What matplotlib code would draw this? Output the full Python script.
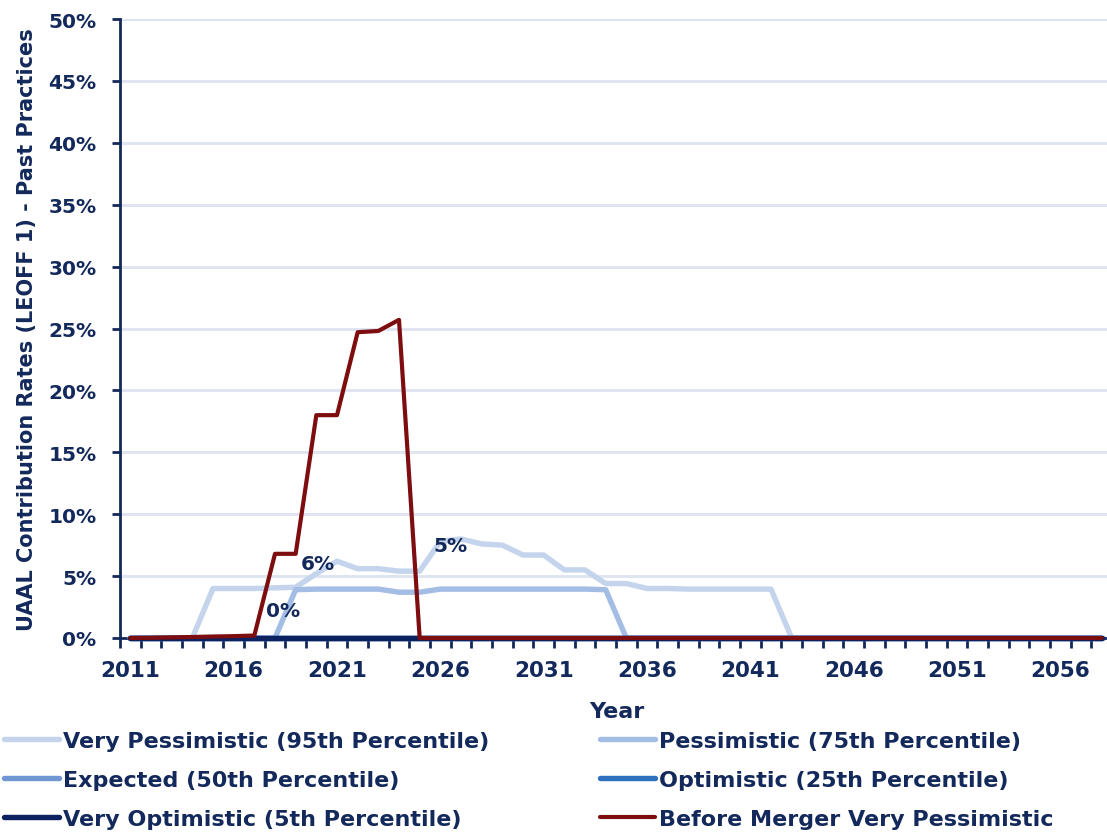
import numpy as np
import matplotlib
matplotlib.use("Agg")
import matplotlib.pyplot as plt
from matplotlib.ticker import FuncFormatter, FixedLocator

# data (percent)
years = list(range(2011, 2059))

very_pessimistic = ([0, 0, 0, 0]
                    + [4.0, 4.0, 4.0, 4.05, 4.1]
                    + [5.2, 6.2, 5.6, 5.6, 5.4, 5.4]
                    + [7.8, 8.0, 7.6, 7.5, 6.7, 6.7, 5.5, 5.5, 4.4, 4.4]
                    + [4.0, 4.0, 3.95, 3.95, 3.95, 3.95, 3.95]
                    + [0] * 16)
pessimistic = ([0] * 8
               + [3.9, 3.95, 3.95, 3.95, 3.95, 3.7, 3.7, 3.95]
               + [3.95] * 7 + [3.9]
               + [0] * 24)
expected = [0] * 48
optimistic = [0] * 48
very_optimistic = [0] * 48
before_merger = ([0, 0.02, 0.05, 0.08, 0.12, 0.15, 0.2]
                 + [6.8, 6.8, 18.0, 18.0, 24.7, 24.8, 25.7]
                 + [0] * 34)

series_names = ["Very Pessimistic (95th Percentile)", "Pessimistic (75th Percentile)",
                "Expected (50th Percentile)", "Optimistic (25th Percentile)",
                "Very Optimistic (5th Percentile)", "Before Merger Very Pessimistic"]
series_colors = ["#c4d4ec", "#a3bde5", "#6e97d3", "#2f6fbf", "#0b2160", "#7d0d0f"]
series_values = [very_pessimistic, pessimistic, expected, optimistic,
                 very_optimistic, before_merger]

navy = "#13295b"

fig = plt.figure(figsize=(11.07, 8.37), dpi=100)
ax = fig.add_axes([120 / 1107, 1 - 639 / 837, 992 / 1107, 619 / 837])

x = np.arange(len(years))
handles = []
for name, col, vals in zip(series_names, series_colors, series_values):
    lw = 3.0 if col == "#7d0d0f" else 3.9
    h, = ax.plot(x, vals, color=col, lw=lw, label=name, clip_on=False,
                 zorder=3, solid_capstyle="round", solid_joinstyle="round")
    handles.append(h)

ax.set_xlim(-0.5, len(years) - 0.5)
ax.set_ylim(0, 50)
ax.set_yticks(np.arange(0, 51, 5))
ax.yaxis.set_major_formatter(FuncFormatter(lambda v, p: "%d%%" % v))
ax.grid(axis="y", color="#dfe5f1", lw=2.2)
ax.set_axisbelow(True)

ax.set_xticks(x[::5])
ax.set_xticklabels([str(y) for y in years[::5]])
ax.xaxis.set_minor_locator(FixedLocator(np.arange(-0.5, len(years), 1)))

for s in ["top", "right"]:
    ax.spines[s].set_visible(False)
for s in ["left", "bottom"]:
    ax.spines[s].set_color(navy)
    ax.spines[s].set_linewidth(2)

ax.tick_params(axis="y", length=6, width=2, color=navy, pad=11,
               labelsize=14.5, labelcolor=navy)
ax.tick_params(axis="x", which="major", length=0, pad=16,
               labelsize=15.5, labelcolor=navy)
ax.tick_params(axis="x", which="minor", length=7, width=2, color=navy)
for lab in ax.get_xticklabels() + ax.get_yticklabels():
    lab.set_fontweight("bold")

ax.set_ylabel("UAAL Contribution Rates (LEOFF 1) - Past Practices",
              fontsize=15, fontweight="bold", color=navy)
ax.yaxis.set_label_coords(-(120 - 37) / 992, 0.5)

# data labels
ax.text(9.05, 5.98, "6%", ha="center", va="center", fontsize=14.5,
        fontweight="bold", color=navy, zorder=4)
ax.text(7.39, 2.2, "0%", ha="center", va="center", fontsize=14.5,
        fontweight="bold", color=navy, zorder=4)
ax.text(15.5, 7.46, "5%", ha="center", va="center", fontsize=14.5,
        fontweight="bold", color=navy, zorder=4)

fig.text(617 / 1107, 1 - 712 / 837, "Year", ha="center", va="center",
         fontsize=16, fontweight="bold", color=navy)

leg_kw = dict(loc="upper left", frameon=False, borderpad=0, borderaxespad=0,
              handlelength=2.48, handletextpad=0.18, labelspacing=0.85,
              prop={"weight": "bold", "size": 16}, labelcolor=navy,
              bbox_transform=fig.transFigure)
fig.legend(handles[0::2], [h.get_label() for h in handles[0::2]],
           bbox_to_anchor=(4 / 1107, 1 - 732 / 837), **leg_kw)
fig.legend(handles[1::2], [h.get_label() for h in handles[1::2]],
           bbox_to_anchor=(600 / 1107, 1 - 732 / 837), **leg_kw)

fig.savefig("out.png", dpi=100)
